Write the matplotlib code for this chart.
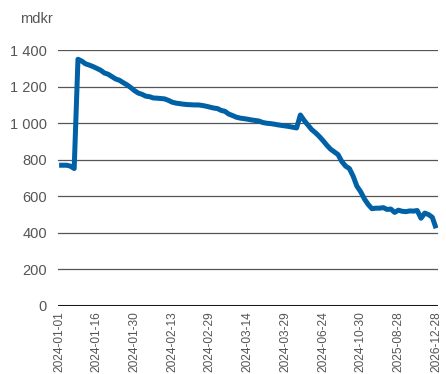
import numpy as np
import matplotlib.pyplot as plt

plt.rcParams['font.family'] = ['Liberation Sans', 'DejaVu Sans']

# tick dates, one every 10 observations
tick_labels = ['2024-01-01', '2024-01-16', '2024-01-30', '2024-02-13', '2024-02-29',
               '2024-03-14', '2024-03-29', '2024-06-24', '2024-10-30', '2025-08-28',
               '2026-12-28']

# mdkr
values = [770, 770, 770, 765, 752, 1350, 1340, 1325, 1318, 1310,
          1300, 1290, 1275, 1268, 1255, 1242, 1235, 1222, 1210, 1195,
          1178, 1165, 1158, 1148, 1145, 1138, 1137, 1135, 1133, 1125,
          1115, 1110, 1107, 1104, 1102, 1101, 1100, 1100, 1097, 1093,
          1088, 1083, 1080, 1070, 1065, 1050, 1042, 1033, 1028, 1025,
          1022, 1018, 1015, 1012, 1004, 1000, 998, 995, 991, 988,
          985, 982, 978, 974, 1045, 1015, 990, 965, 948, 928,
          905, 880, 858, 843, 828, 790, 765, 752, 710, 655,
          625, 585, 555, 532, 535, 535, 538, 528, 530, 512,
          524, 518, 516, 520, 519, 522, 480, 508, 500, 485,
          425]

yticks = [0, 200, 400, 600, 800, 1000, 1200, 1400]

fig = plt.figure(figsize=(4.46, 3.74), dpi=100)
ax = fig.add_axes([0.130, 0.182, 0.852, 0.684])

x = np.arange(len(values))
ax.plot(x, values, color='#0061a6', lw=3.6, solid_joinstyle='round', solid_capstyle='butt', zorder=3)

for v in yticks[1:]:
    ax.axhline(v, color='#555555', lw=0.9, zorder=1)
ax.axhline(0, color='#1a1a1a', lw=2.2, zorder=2)

ax.set_ylim(0, 1400)
ax.set_xlim(-0.3, 100.5)
ax.set_yticks(yticks)
ax.set_yticklabels([f'{v:,}'.replace(',', ' ') for v in yticks])
ax.set_xticks(x[::10])
ax.set_xticklabels(tick_labels, rotation=90)
ax.tick_params(axis='y', length=0, pad=8, labelsize=10.5, labelcolor='#555555')
ax.tick_params(axis='x', length=0, pad=4, labelsize=8.6, labelcolor='#555555')
for s in ax.spines.values():
    s.set_visible(False)
ax.patch.set_visible(False)

fig.text(0.045, 0.95, 'mdkr', fontsize=10.5, color='#555555', va='center')

fig.savefig('out.png', dpi=100)
